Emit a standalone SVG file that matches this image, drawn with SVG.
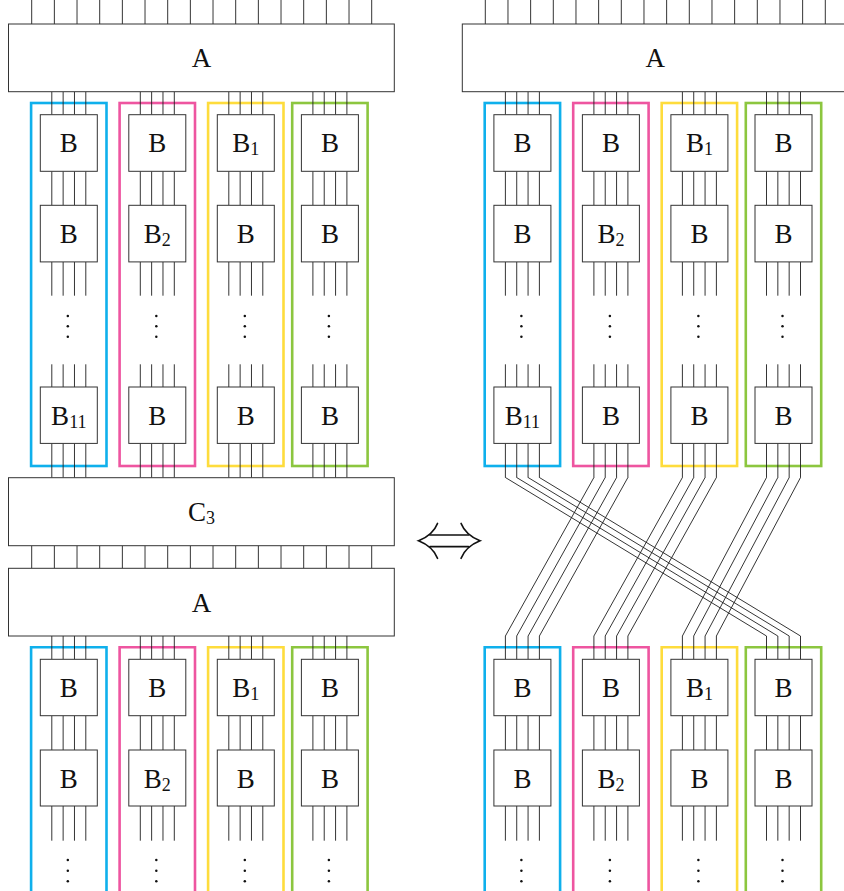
<svg xmlns="http://www.w3.org/2000/svg" xmlns:xlink="http://www.w3.org/1999/xlink" width="844" height="891" viewBox="0 0 844 891">
<style>
.box{fill:#fff;stroke:#333;stroke-width:1}
.w{fill:none;stroke:#1e1e1e;stroke-width:0.9}
.lbl{font-family:"Liberation Serif","Times New Roman",serif;font-size:27px;text-anchor:middle;fill:#111}
.sub{font-size:18px}
.grp{fill:none;stroke-width:2.6}
.cb{stroke:#0FB0EC}.cp{stroke:#EE55A0}.cy{stroke:#FEDC3C}.cg{stroke:#8CC63F}
.dot{fill:#111}
.arr{fill:none;stroke:#111;stroke-width:1.7;stroke-linecap:round}
</style>
<defs>
<path id="top16" d="M31.7 0V24M54.37 0V24M77.03 0V24M99.7 0V24M122.37 0V24M145.03 0V24M167.7 0V24M190.37 0V24M213.03 0V24M235.7 0V24M258.37 0V24M281.03 0V24M303.7 0V24M326.37 0V24M349.03 0V24M371.7 0V24"/>
<path id="mid16" d="M31.7 545.7V568.3M54.37 545.7V568.3M77.03 545.7V568.3M99.7 545.7V568.3M122.37 545.7V568.3M145.03 545.7V568.3M167.7 545.7V568.3M190.37 545.7V568.3M213.03 545.7V568.3M235.7 545.7V568.3M258.37 545.7V568.3M281.03 545.7V568.3M303.7 545.7V568.3M326.37 545.7V568.3M349.03 545.7V568.3M371.7 545.7V568.3"/>
<path id="wTop" d="M-17 91.7V114.7M-5.67 91.7V114.7M5.67 91.7V114.7M17 91.7V114.7M-17 171.3V205.3M-5.67 171.3V205.3M5.67 171.3V205.3M17 171.3V205.3M-17 262V295.7M-5.67 262V295.7M5.67 262V295.7M17 262V295.7M-17 364.3V387M-5.67 364.3V387M5.67 364.3V387M17 364.3V387M-17 443.3V477.7M-5.67 443.3V477.7M5.67 443.3V477.7M17 443.3V477.7"/>
<path id="wBot" d="M-17 636V659.3M-5.67 636V659.3M5.67 636V659.3M17 636V659.3M-17 715.7V750M-5.67 715.7V750M5.67 715.7V750M17 715.7V750M-17 806V840.7M-5.67 806V840.7M5.67 806V840.7M17 806V840.7"/>
<g id="dotsTop" class="dot"><circle cx="-1" cy="316" r="1.25"/><circle cx="-1" cy="326.3" r="1.25"/><circle cx="-1" cy="336.7" r="1.25"/></g>
<g id="dotsBot" class="dot"><circle cx="-1" cy="860" r="1.25"/><circle cx="-1" cy="870.7" r="1.25"/><circle cx="-1" cy="881.3" r="1.25"/></g>
</defs>

<g id="groups">
<rect class="grp cb" x="31.1" y="103" width="75.4" height="363"/>
<rect class="grp cp" x="119.6" y="103" width="75.4" height="363"/>
<rect class="grp cy" x="208.1" y="103" width="75.4" height="363"/>
<rect class="grp cg" x="292.2" y="103" width="75.4" height="363"/>
<path class="grp cb" d="M31.1 896V647.3H106.5V896"/>
<path class="grp cp" d="M119.6 896V647.3H195V896"/>
<path class="grp cy" d="M208.1 896V647.3H283.5V896"/>
<path class="grp cg" d="M292.2 896V647.3H367.6V896"/>
<rect class="grp cb" x="484.7" y="103" width="75.4" height="363"/>
<rect class="grp cp" x="573.2" y="103" width="75.4" height="363"/>
<rect class="grp cy" x="661.7" y="103" width="75.4" height="363"/>
<rect class="grp cg" x="745.8" y="103" width="75.4" height="363"/>
<path class="grp cb" d="M484.7 896V647.3H560.1V896"/>
<path class="grp cp" d="M573.2 896V647.3H648.6V896"/>
<path class="grp cy" d="M661.7 896V647.3H737.1V896"/>
<path class="grp cg" d="M745.8 896V647.3H821.2V896"/>
</g>

<g id="connectors" class="w">
<use href="#top16"/>
<use href="#top16" x="453.6"/>
<use href="#mid16"/>
<use href="#wTop" x="68.8"/>
<use href="#wTop" x="157.3"/>
<use href="#wTop" x="245.8"/>
<use href="#wTop" x="329.9"/>
<use href="#wTop" x="522.4"/>
<use href="#wTop" x="610.9"/>
<use href="#wTop" x="699.4"/>
<use href="#wTop" x="783.5"/>
<use href="#wBot" x="68.8"/>
<use href="#wBot" x="157.3"/>
<use href="#wBot" x="245.8"/>
<use href="#wBot" x="329.9"/>
<use href="#wBot" x="522.4"/>
<use href="#wBot" x="610.9"/>
<use href="#wBot" x="699.4"/>
<use href="#wBot" x="783.5"/>
<path d="M505.4 477.5L766.5 636M516.7 477.5L777.8 636M528.1 477.5L789.2 636M539.4 477.5L800.5 636"/>
<path d="M593.9 477.5L505.4 636M605.2 477.5L516.7 636M616.6 477.5L528.1 636M627.9 477.5L539.4 636"/>
<path d="M682.4 477.5L593.9 636M693.7 477.5L605.2 636M705.1 477.5L616.6 636M716.4 477.5L627.9 636"/>
<path d="M766.5 477.5L682.4 636M777.8 477.5L693.7 636M789.2 477.5L705.1 636M800.5 477.5L716.4 636"/>
</g>

<g id="ellipses">
<use href="#dotsTop" x="68.8"/><use href="#dotsTop" x="157.3"/><use href="#dotsTop" x="245.8"/><use href="#dotsTop" x="329.9"/>
<use href="#dotsTop" x="522.4"/><use href="#dotsTop" x="610.9"/><use href="#dotsTop" x="699.4"/><use href="#dotsTop" x="783.5"/>
<use href="#dotsBot" x="68.8"/><use href="#dotsBot" x="157.3"/><use href="#dotsBot" x="245.8"/><use href="#dotsBot" x="329.9"/>
<use href="#dotsBot" x="522.4"/><use href="#dotsBot" x="610.9"/><use href="#dotsBot" x="699.4"/><use href="#dotsBot" x="783.5"/>
</g>

<g id="A-left-top"><rect class="box" x="8.5" y="24" width="385.8" height="67.7"/><text class="lbl" x="201.4" y="67.3">A</text></g>
<g id="C-left"><rect class="box" x="8.5" y="477.7" width="385.8" height="68"/><text class="lbl" x="201.4" y="521">C<tspan class="sub" dy="3">3</tspan></text></g>
<g id="A-left-bottom"><rect class="box" x="8.5" y="568.3" width="385.8" height="67.7"/><text class="lbl" x="201.4" y="612.3">A</text></g>
<g id="A-right-top"><rect class="box" x="462.3" y="24" width="385.8" height="67.7"/><text class="lbl" x="655.2" y="67.3">A</text></g>

<g id="L-B-0-0"><rect class="box" x="40.3" y="114.7" width="57" height="56.6"/><text class="lbl" x="68.8" y="152.3">B</text></g>
<g id="L-B-1-0"><rect class="box" x="128.8" y="114.7" width="57" height="56.6"/><text class="lbl" x="157.3" y="152.3">B</text></g>
<g id="L-B-2-0"><rect class="box" x="217.3" y="114.7" width="57" height="56.6"/><text class="lbl" x="245.8" y="152.3">B<tspan class="sub" dy="3">1</tspan></text></g>
<g id="L-B-3-0"><rect class="box" x="301.4" y="114.7" width="57" height="56.6"/><text class="lbl" x="329.9" y="152.3">B</text></g>
<g id="L-B-0-1"><rect class="box" x="40.3" y="205.3" width="57" height="56.6"/><text class="lbl" x="68.8" y="242.9">B</text></g>
<g id="L-B-1-1"><rect class="box" x="128.8" y="205.3" width="57" height="56.6"/><text class="lbl" x="157.3" y="242.9">B<tspan class="sub" dy="3">2</tspan></text></g>
<g id="L-B-2-1"><rect class="box" x="217.3" y="205.3" width="57" height="56.6"/><text class="lbl" x="245.8" y="242.9">B</text></g>
<g id="L-B-3-1"><rect class="box" x="301.4" y="205.3" width="57" height="56.6"/><text class="lbl" x="329.9" y="242.9">B</text></g>
<g id="L-B-0-2"><rect class="box" x="40.3" y="387" width="57" height="56.4"/><text class="lbl" x="68.8" y="424.6">B<tspan class="sub" dy="3">11</tspan></text></g>
<g id="L-B-1-2"><rect class="box" x="128.8" y="387" width="57" height="56.4"/><text class="lbl" x="157.3" y="424.6">B</text></g>
<g id="L-B-2-2"><rect class="box" x="217.3" y="387" width="57" height="56.4"/><text class="lbl" x="245.8" y="424.6">B</text></g>
<g id="L-B-3-2"><rect class="box" x="301.4" y="387" width="57" height="56.4"/><text class="lbl" x="329.9" y="424.6">B</text></g>

<g id="L-B-0-3"><rect class="box" x="40.3" y="659.3" width="57" height="56.4"/><text class="lbl" x="68.8" y="696.9">B</text></g>
<g id="L-B-1-3"><rect class="box" x="128.8" y="659.3" width="57" height="56.4"/><text class="lbl" x="157.3" y="696.9">B</text></g>
<g id="L-B-2-3"><rect class="box" x="217.3" y="659.3" width="57" height="56.4"/><text class="lbl" x="245.8" y="696.9">B<tspan class="sub" dy="3">1</tspan></text></g>
<g id="L-B-3-3"><rect class="box" x="301.4" y="659.3" width="57" height="56.4"/><text class="lbl" x="329.9" y="696.9">B</text></g>
<g id="L-B-0-4"><rect class="box" x="40.3" y="750" width="57" height="56"/><text class="lbl" x="68.8" y="787.6">B</text></g>
<g id="L-B-1-4"><rect class="box" x="128.8" y="750" width="57" height="56"/><text class="lbl" x="157.3" y="787.6">B<tspan class="sub" dy="3">2</tspan></text></g>
<g id="L-B-2-4"><rect class="box" x="217.3" y="750" width="57" height="56"/><text class="lbl" x="245.8" y="787.6">B</text></g>
<g id="L-B-3-4"><rect class="box" x="301.4" y="750" width="57" height="56"/><text class="lbl" x="329.9" y="787.6">B</text></g>

<g id="R-B-0-0"><rect class="box" x="493.9" y="114.7" width="57" height="56.6"/><text class="lbl" x="522.4" y="152.3">B</text></g>
<g id="R-B-1-0"><rect class="box" x="582.4" y="114.7" width="57" height="56.6"/><text class="lbl" x="610.9" y="152.3">B</text></g>
<g id="R-B-2-0"><rect class="box" x="670.9" y="114.7" width="57" height="56.6"/><text class="lbl" x="699.4" y="152.3">B<tspan class="sub" dy="3">1</tspan></text></g>
<g id="R-B-3-0"><rect class="box" x="755" y="114.7" width="57" height="56.6"/><text class="lbl" x="783.5" y="152.3">B</text></g>
<g id="R-B-0-1"><rect class="box" x="493.9" y="205.3" width="57" height="56.6"/><text class="lbl" x="522.4" y="242.9">B</text></g>
<g id="R-B-1-1"><rect class="box" x="582.4" y="205.3" width="57" height="56.6"/><text class="lbl" x="610.9" y="242.9">B<tspan class="sub" dy="3">2</tspan></text></g>
<g id="R-B-2-1"><rect class="box" x="670.9" y="205.3" width="57" height="56.6"/><text class="lbl" x="699.4" y="242.9">B</text></g>
<g id="R-B-3-1"><rect class="box" x="755" y="205.3" width="57" height="56.6"/><text class="lbl" x="783.5" y="242.9">B</text></g>
<g id="R-B-0-2"><rect class="box" x="493.9" y="387" width="57" height="56.4"/><text class="lbl" x="522.4" y="424.6">B<tspan class="sub" dy="3">11</tspan></text></g>
<g id="R-B-1-2"><rect class="box" x="582.4" y="387" width="57" height="56.4"/><text class="lbl" x="610.9" y="424.6">B</text></g>
<g id="R-B-2-2"><rect class="box" x="670.9" y="387" width="57" height="56.4"/><text class="lbl" x="699.4" y="424.6">B</text></g>
<g id="R-B-3-2"><rect class="box" x="755" y="387" width="57" height="56.4"/><text class="lbl" x="783.5" y="424.6">B</text></g>

<g id="R-B-0-3"><rect class="box" x="493.9" y="659.3" width="57" height="56.4"/><text class="lbl" x="522.4" y="696.9">B</text></g>
<g id="R-B-1-3"><rect class="box" x="582.4" y="659.3" width="57" height="56.4"/><text class="lbl" x="610.9" y="696.9">B</text></g>
<g id="R-B-2-3"><rect class="box" x="670.9" y="659.3" width="57" height="56.4"/><text class="lbl" x="699.4" y="696.9">B<tspan class="sub" dy="3">1</tspan></text></g>
<g id="R-B-3-3"><rect class="box" x="755" y="659.3" width="57" height="56.4"/><text class="lbl" x="783.5" y="696.9">B</text></g>
<g id="R-B-0-4"><rect class="box" x="493.9" y="750" width="57" height="56"/><text class="lbl" x="522.4" y="787.6">B</text></g>
<g id="R-B-1-4"><rect class="box" x="582.4" y="750" width="57" height="56"/><text class="lbl" x="610.9" y="787.6">B<tspan class="sub" dy="3">2</tspan></text></g>
<g id="R-B-2-4"><rect class="box" x="670.9" y="750" width="57" height="56"/><text class="lbl" x="699.4" y="787.6">B</text></g>
<g id="R-B-3-4"><rect class="box" x="755" y="750" width="57" height="56"/><text class="lbl" x="783.5" y="787.6">B</text></g>

<g id="equivalence">
<path class="arr" d="M430 535H468.5M430 546.7H468.5"/>
<path class="arr" d="M437.5 523.5Q433 535 418.6 540.8Q433 546.6 437.5 558.3"/>
<path class="arr" d="M461.1 523.5Q465.6 535 480 540.8Q465.6 546.6 461.1 558.3"/>
</g>
</svg>
